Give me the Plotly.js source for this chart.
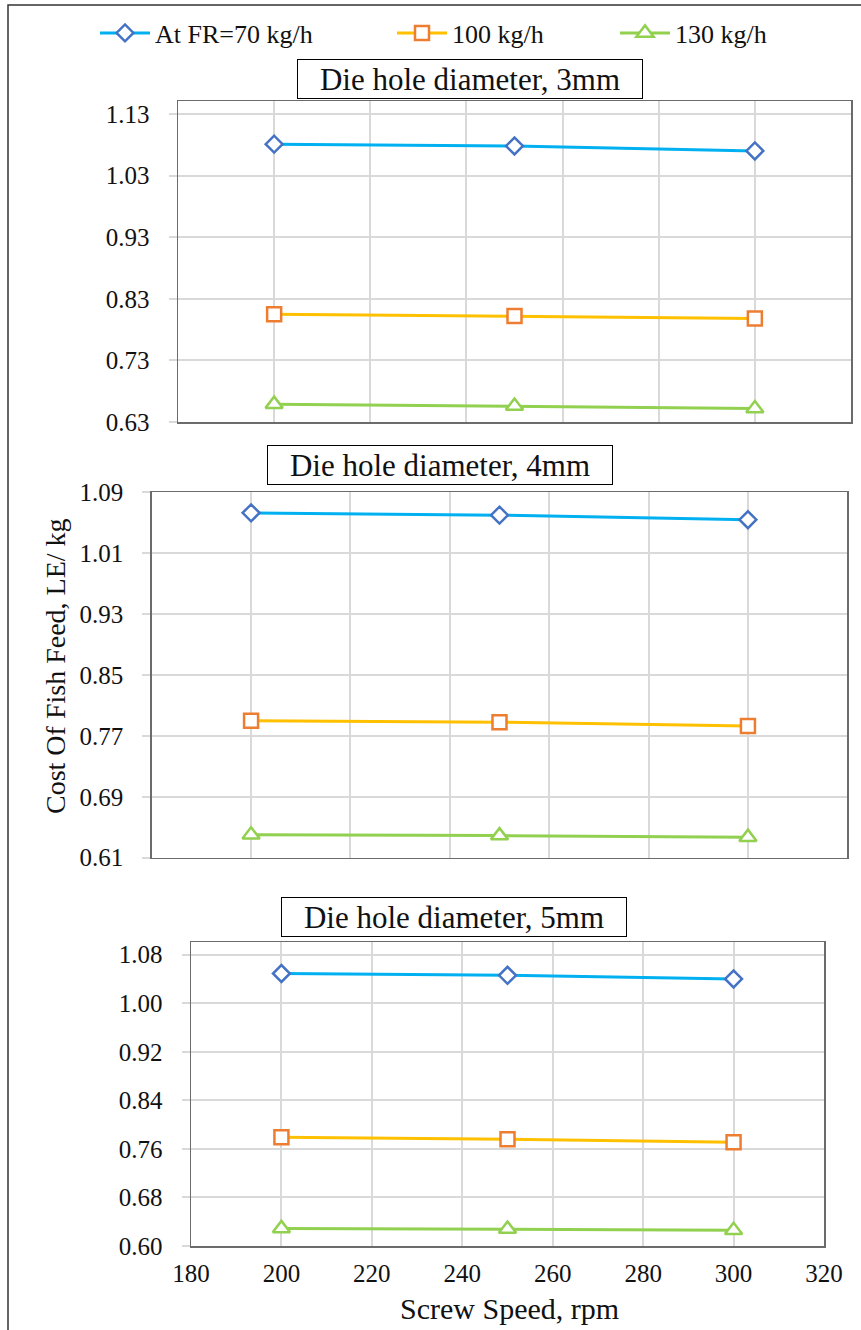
<!DOCTYPE html>
<html>
<head>
<meta charset="utf-8">
<script src="https://cdn.plot.ly/plotly-3.0.1.min.js"></script>
<style>html,body{margin:0;padding:0;background:#fff;}#chart{width:861px;height:1330px;}</style>
</head>
<body>
<div id="chart"></div>
<script>
// Data
var screwSpeed = [200, 250, 300];
var seriesNames = ['At FR=70 kg/h', '100 kg/h', '130 kg/h'];
var panelTitles = ['Die hole diameter, 3mm', 'Die hole diameter, 4mm', 'Die hole diameter, 5mm'];

var die3_fr70  = [1.081, 1.078, 1.070];
var die3_fr100 = [0.805, 0.802, 0.798];
var die3_fr130 = [0.659, 0.656, 0.652];

var die4_fr70  = [1.063, 1.060, 1.054];
var die4_fr100 = [0.790, 0.788, 0.783];
var die4_fr130 = [0.640, 0.639, 0.637];

var die5_fr70  = [1.049, 1.046, 1.040];
var die5_fr100 = [0.779, 0.776, 0.771];
var die5_fr130 = [0.629, 0.628, 0.626];

var yTitle = 'Cost Of Fish Feed, LE/ kg';
var xTitle = 'Screw Speed, rpm';

// Styles
var W = 861, H = 1330;
var FONT = 'Liberation Serif';
var lineColors = ['#00B0F0', '#FFC000', '#92D050'];
var markerEdge = ['#4472C4', '#ED7D31', '#92D050'];
var symbols = ['diamond', 'square', 'triangle-up'];
var msize = [13, 14, 15];
var legendIds = ['legend', 'legend2', 'legend3'];

var panels = [
  {data: [die3_fr70, die3_fr100, die3_fr130], xa: 'x', ya: 'y'},
  {data: [die4_fr70, die4_fr100, die4_fr130], xa: 'x2', ya: 'y2'},
  {data: [die5_fr70, die5_fr100, die5_fr130], xa: 'x3', ya: 'y3'}
];

var traces = [];
panels.forEach(function (p, pi) {
  p.data.forEach(function (vals, si) {
    traces.push({
      type: 'scatter', mode: 'lines+markers',
      x: screwSpeed, y: vals, name: seriesNames[si],
      xaxis: p.xa, yaxis: p.ya,
      line: {color: lineColors[si], width: 3},
      marker: {symbol: symbols[si], size: msize[si], color: '#ffffff',
               line: {color: markerEdge[si], width: 2.5}},
      showlegend: pi === 0,
      legend: legendIds[si],
      hoverinfo: 'x+y'
    });
  });
});

function px(x) { return x / W; }
function py(y) { return 1 - y / H; }

var gridC = '#D9D9D9';
function xAxis(left, right, anchor, showLabels) {
  return {
    domain: [px(left), px(right)], anchor: anchor,
    range: [180, 320], tick0: 180, dtick: 20,
    showgrid: true, gridcolor: gridC, gridwidth: 2,
    zeroline: false, showline: true, mirror: true, linecolor: '#6b6b6b', linewidth: 1.5,
    ticks: '', showticklabels: showLabels, ticklabelstandoff: 4,
    tickfont: {family: FONT, size: 25, color: '#111'}
  };
}
function yAxis(top, bottom, anchor, range, t0, dt) {
  return {
    domain: [py(bottom), py(top)], anchor: anchor,
    range: range, tick0: t0, dtick: dt, tickformat: '.2f',
    showgrid: true, gridcolor: gridC, gridwidth: 2,
    zeroline: false, showline: true, mirror: true, linecolor: '#6b6b6b', linewidth: 1.5,
    ticks: 'outside', ticklen: 8, tickwidth: 2, tickcolor: gridC,
    ticklabelstandoff: 14,
    tickfont: {family: FONT, size: 25, color: '#111'}
  };
}

function legendAt(x) {
  return {
    x: px(x), xanchor: 'left', y: py(33), yanchor: 'middle',
    orientation: 'h', itemwidth: 50, bgcolor: 'rgba(0,0,0,0)',
    font: {family: FONT, size: 26, color: '#111'}
  };
}

function boxTitle(text, cx, cy) {
  return {
    text: text, xref: 'paper', yref: 'paper', x: px(cx), y: py(cy),
    xanchor: 'center', yanchor: 'middle', showarrow: false,
    font: {family: FONT, size: 31, color: '#111'},
    bordercolor: '#000', borderwidth: 1, borderpad: 3, bgcolor: '#fff',
    width: 338, height: 32
  };
}

var layout = {
  width: W, height: H,
  margin: {l: 0, r: 0, t: 0, b: 0},
  paper_bgcolor: '#fff', plot_bgcolor: '#fff',
  font: {family: FONT, color: '#111'},
  xaxis: xAxis(178, 851, 'y', false),
  yaxis: yAxis(101, 422, 'x', [0.63, 1.151], 0.63, 0.1),
  xaxis2: xAxis(151.7, 847.3, 'y2', false),
  yaxis2: yAxis(492.3, 857.7, 'x2', [0.61, 1.09], 0.61, 0.08),
  xaxis3: xAxis(191, 824, 'y3', true),
  yaxis3: yAxis(942.3, 1246, 'x3', [0.60, 1.1004], 0.60, 0.08),
  legend: legendAt(95),
  legend2: legendAt(392),
  legend3: legendAt(615),
  annotations: [
    boxTitle(panelTitles[0], 470, 79),
    boxTitle(panelTitles[1], 440, 465),
    boxTitle(panelTitles[2], 453.5, 917),
    {text: yTitle, xref: 'paper', yref: 'paper', x: px(55), y: py(666),
     xanchor: 'center', yanchor: 'middle', textangle: -90, showarrow: false,
     font: {family: FONT, size: 28, color: '#111'}},
    {text: xTitle, xref: 'paper', yref: 'paper', x: px(509), y: py(1308),
     xanchor: 'center', yanchor: 'middle', showarrow: false,
     font: {family: FONT, size: 30, color: '#111'}}
  ],
  shapes: [
    {type: 'rect', xref: 'paper', yref: 'paper', x0: px(8), x1: 1.05, y0: -0.05, y1: py(5),
     line: {color: '#333', width: 1.5}, fillcolor: 'rgba(0,0,0,0)', layer: 'below'}
  ]
};

Plotly.newPlot('chart', traces, layout, {staticPlot: true, displayModeBar: false});
</script>
</body>
</html>
